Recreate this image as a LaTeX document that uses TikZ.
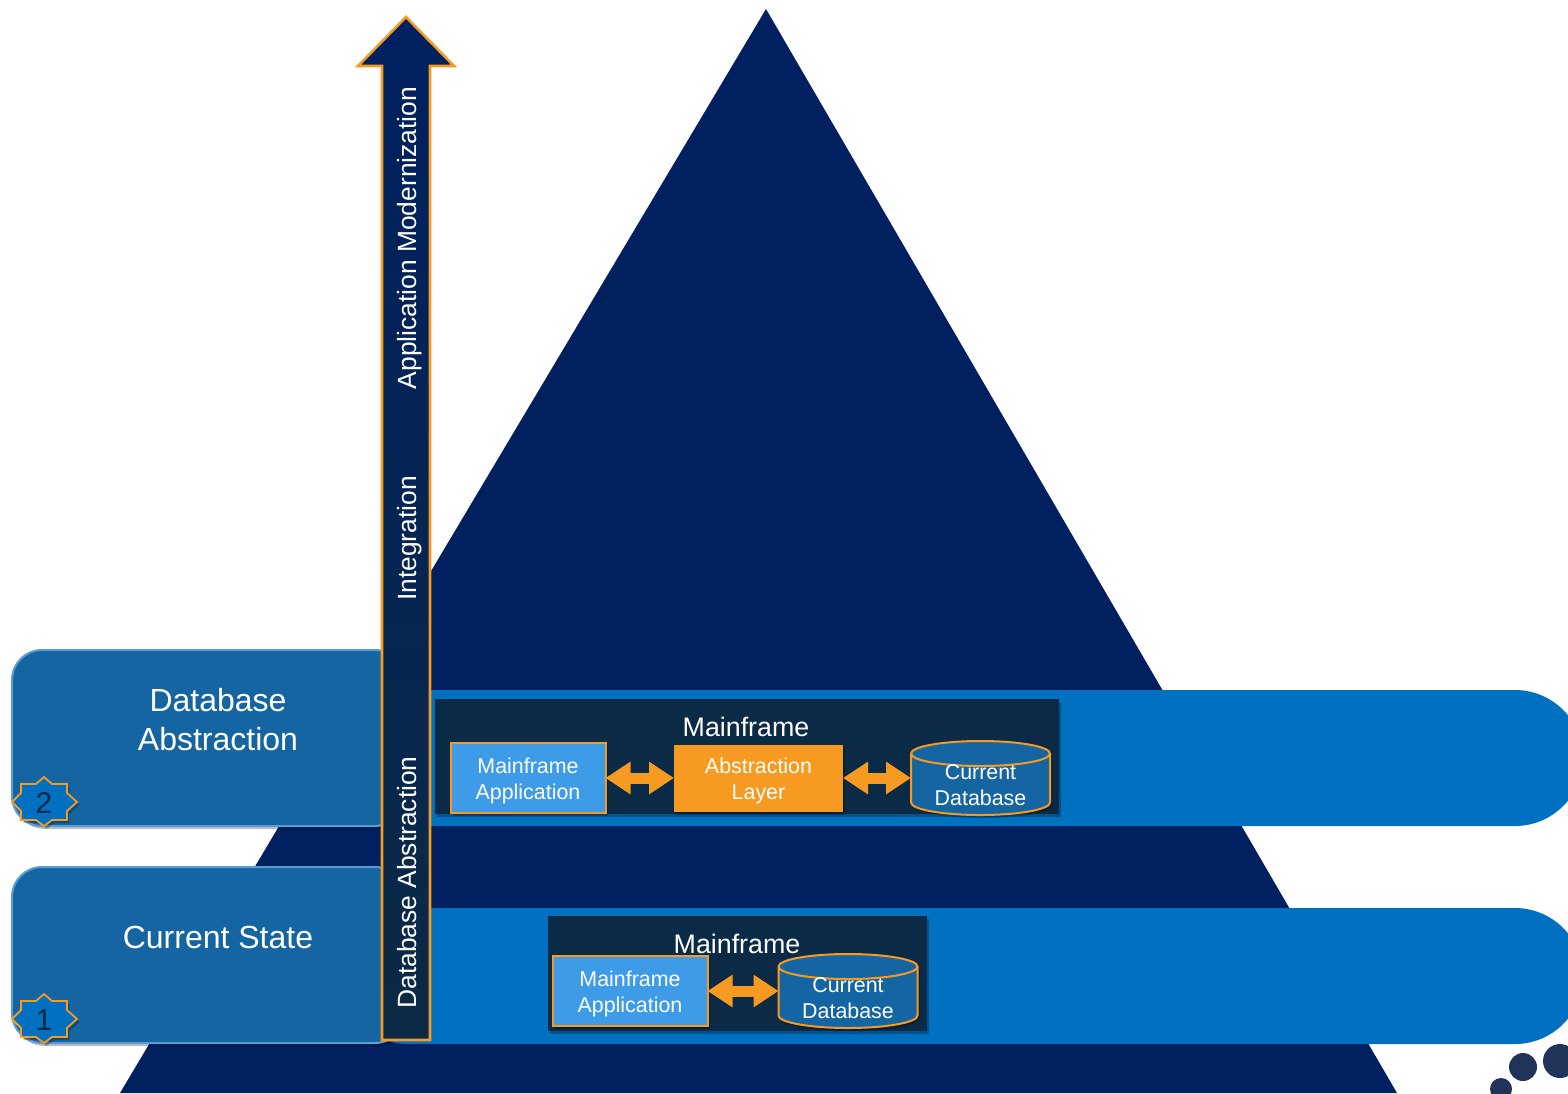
\documentclass[tikz,border=0pt]{standalone}
\usepackage{fontspec}
\setmainfont{Liberation Sans}
\usepackage{tikz}
\usetikzlibrary{arrows.meta, shadows}
\definecolor{color1}{HTML}{002060}
\definecolor{color2}{HTML}{0070C0}
\definecolor{color3}{HTML}{1565A3}
\definecolor{color4}{HTML}{0B2A45}
\definecolor{color5}{HTML}{3E9BE8}
\definecolor{color6}{HTML}{F79A22}
\definecolor{color7}{HTML}{5B9BD5}
\definecolor{color8}{HTML}{22335A}
\newcommand{\dropline}{\rule{0pt}{10.7pt}}
\newcommand{\dropmore}{\rule{0pt}{14.7pt}}
\tikzset{
  softshadow/.style = {drop shadow = {fill = black, opacity = 0.25, shadow xshift = 1.2pt, shadow yshift = -1.5pt}},
  tabbox/.style = {fill = color3, draw = color7, line width = 1pt, rounded corners = 15pt, softshadow},
  tabtext/.style = {text = white, align = center, font = \fontsize{16}{19.5}\selectfont},
  smalltext/.style = {text = white, align = center, font = \fontsize{10.7}{13}\selectfont},
  titletext/.style = {text = white, font = \fontsize{13.4}{15}\selectfont},
  sidetext/.style = {text = white, rotate = 90, anchor = base, font = \fontsize{13.2}{15}\selectfont},
  framebox/.style = {fill = color4, softshadow},
  appbox/.style = {smalltext, rectangle, fill = color5, draw = color6, line width = 1pt, minimum width = 77.5pt, minimum height = 35pt, inner sep = 0pt, outer sep = 0pt, softshadow},
  layerbox/.style = {smalltext, rectangle, fill = color6, minimum width = 84.5pt, minimum height = 33.5pt, inner sep = 0pt, outer sep = 0pt, softshadow},
  dbbody/.style = {draw = color6, line width = 1pt, fill = color3, softshadow},
  dbtop/.style = {draw = color6, line width = 1pt},
  dbshape/.style = {smalltext, rectangle, minimum width = 69.5pt, minimum height = 37pt, inner sep = 0pt, outer sep = 0pt},
  dblarrow/.style = {color6, line width = 5.5pt, {Triangle[length = 12.5pt, width = 15.5pt]}-{Triangle[length = 12.5pt, width = 15.5pt]}},
  badge/.style = {fill = color2, draw = color6, line width = 0.9pt, softshadow},
  badgetext/.style = {text = color4, font = \fontsize{15}{18}\selectfont}
}
\def\badgepath{(0, -25) -- (8, -18) -- (23, -18) -- (23, -9) -- (33, 0) -- (23, 9) -- (23, 18) -- (8, 18) -- (0, 24) -- (-8, 18) -- (-23, 18) -- (-23, 9) -- (-32, 0) -- (-23, -9) -- (-23, -18) -- (-8, -18) -- cycle}
\def\dbpath{(-69.5, -24.5) -- (-69.5, 24.5) arc (180:360:34.75pt and 6.25pt) -- (69.5, -24.5) arc (0:180:34.75pt and 6.25pt) -- cycle}
\def\dbfront{(-69.5, -24.5) arc (180:360:34.75pt and 6.25pt)}

\begin{document}
\begin{tikzpicture}[x = 0.5pt, y = -0.5pt]

\useasboundingbox (0, 0) rectangle (1568, 1093);
\clip (0, 0) rectangle (1568, 1093);

\fill [color1] (766, 9) -- (1397, 1093) -- (120, 1093) -- cycle;

\fill [color2, rounded corners = 34pt] (340, 690) rectangle (1583, 826);
\fill [color2, rounded corners = 34pt] (340, 908) rectangle (1583, 1044);

\draw [tabbox] (405, 650) -- (12, 650) -- (12, 826) -- (405, 826) -- cycle;
\draw [tabbox] (405, 867) -- (12, 867) -- (12, 1043) -- (405, 1043) -- cycle;
\node [tabtext] (tabtwo) at (218, 720) {Database\\Abstraction};
\node [tabtext] (tabone) at (218, 937) {Current State};

\draw [badge, shift = {(44, 802)}] \badgepath;
\draw [badge, shift = {(44, 1019)}] \badgepath;
\node [badgetext] (badgetwo) at (44, 803) {2};
\node [badgetext] (badgeone) at (44, 1020) {1};

\draw [top color = color1, bottom color = color4, draw = color6, line width = 1.3pt] (406, 17) -- (454, 66) -- (430, 66) -- (430, 1040) -- (382, 1040) -- (382, 66) -- (358, 66) -- cycle;
\node [sidetext] (sidemod) at (416, 238) {Application Modernization};
\node [sidetext] (sideint) at (416, 538.5) {Integration};
\node [sidetext] (sidedb) at (416, 882.5) {Database Abstraction};

% upper band
\fill [framebox] (435, 699) rectangle (1059, 814);
\node [titletext] (titletwo) at (746, 727) {Mainframe};
\node [appbox] (apptwo) at (528, 778) {\dropline Mainframe\\Application};
\node [layerbox] (layertwo) at (758.5, 778) {\dropline Abstraction\\Layer};
\draw [dbbody, shift = {(980.5, 778)}] \dbpath;
\draw [dbtop, shift = {(980.5, 778)}] \dbfront;
\node [dbshape] (dbtwo) at (980.5, 778) {\dropmore Current\\Database};
\draw [dblarrow] (apptwo) -- (layertwo);
\draw [dblarrow] (layertwo) -- (dbtwo);

% lower band
\fill [framebox] (548, 916) rectangle (927, 1031);
\node [titletext] (titleone) at (737, 944) {Mainframe};
\node [appbox] (appone) at (630, 991) {\dropline Mainframe\\Application};
\draw [dbbody, shift = {(848, 991)}] \dbpath;
\draw [dbtop, shift = {(848, 991)}] \dbfront;
\node [dbshape] (dbone) at (848, 991) {\dropmore Current\\Database};
\draw [dblarrow] (appone) -- (dbone);

\fill [color8] (1523, 1067) circle (7pt);
\fill [color8] (1560, 1061) circle (8.5pt);
\fill [color8] (1501, 1089) circle (5.5pt);

\end{tikzpicture}
\end{document}
